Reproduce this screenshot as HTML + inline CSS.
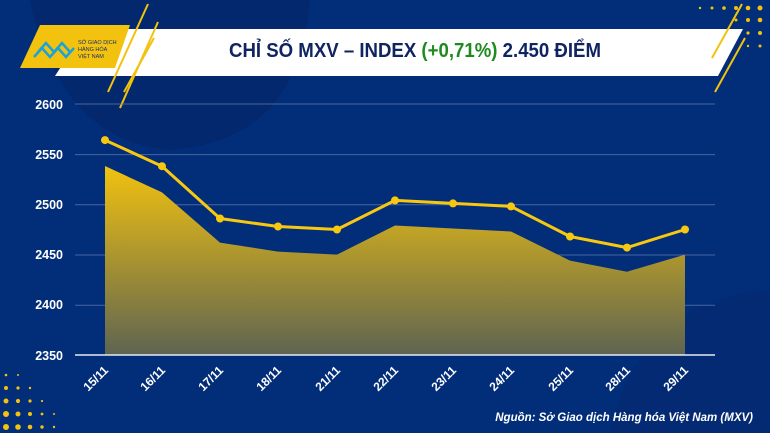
<!DOCTYPE html>
<html><head><meta charset="utf-8"><style>
html,body{margin:0;padding:0;width:770px;height:433px;overflow:hidden;}
body{background:#022d78;font-family:"Liberation Sans",sans-serif;}
svg{display:block;}
</style></head><body>
<svg width="770" height="433" viewBox="0 0 770 433" xmlns="http://www.w3.org/2000/svg">
<defs>
<linearGradient id="ag" x1="0" y1="0" x2="0" y2="1">
<stop offset="0" stop-color="#f2c20f"/>
<stop offset="1" stop-color="#5e6452"/>
</linearGradient>
</defs>
<rect width="770" height="433" fill="#022d78"/>
<path d="M30,0 L310,0 Q300,140 170,150 Q60,140 30,0 Z" fill="#04276a" opacity="0.8"/>
<path d="M610,433 Q640,300 770,290 L770,433 Z" fill="#042a70" opacity="0.7"/>
<g fill="#f2c20f">
<circle cx="700" cy="8" r="1.2"/><circle cx="712" cy="8" r="1.5"/><circle cx="724" cy="8" r="1.8"/><circle cx="736" cy="8" r="2"/><circle cx="748" cy="8" r="2.3"/><circle cx="760" cy="8" r="2.5"/>
<circle cx="736" cy="20" r="1.5"/><circle cx="748" cy="20" r="2"/><circle cx="760" cy="20" r="2.3"/>
<circle cx="748" cy="33" r="1.6"/><circle cx="760" cy="33" r="2"/><circle cx="760" cy="46" r="1.5"/><circle cx="748" cy="46" r="1.2"/>
<circle cx="6" cy="375" r="1.3"/><circle cx="18" cy="375" r="1"/><circle cx="6" cy="388" r="2"/><circle cx="18" cy="388" r="1.6"/><circle cx="30" cy="388" r="1.2"/>
<circle cx="6" cy="401" r="2.5"/><circle cx="18" cy="401" r="2.1"/><circle cx="30" cy="401" r="1.6"/><circle cx="42" cy="401" r="1.1"/>
<circle cx="6" cy="414" r="3"/><circle cx="18" cy="414" r="2.5"/><circle cx="30" cy="414" r="2"/><circle cx="42" cy="414" r="1.4"/><circle cx="54" cy="414" r="1"/>
<circle cx="6" cy="427" r="3"/><circle cx="18" cy="427" r="2.8"/><circle cx="30" cy="427" r="2.3"/><circle cx="42" cy="427" r="1.7"/><circle cx="54" cy="427" r="1.2"/>
</g>
<polygon points="85,29 743,29 718,76 55,76" fill="#ffffff"/>
<polygon points="40,25 130,25 115,68 20,68" fill="#f2c20f"/>
<g stroke="#1aa3d8" stroke-width="2.5" fill="none">
<polyline points="34,57 42,48 50,57 58,48 66,57 74,48"/>
<polyline points="38,52 46,43 54,52 62,43 70,52"/>
</g>
<text x="78" y="44" font-size="5.5" fill="#1b2e6e">SỞ GIAO DỊCH</text>
<text x="78" y="51" font-size="5.5" fill="#1b2e6e">HÀNG HÓA</text>
<text x="78" y="58" font-size="5.5" fill="#1b2e6e">VIỆT NAM</text>
<g stroke="#f2c20f" stroke-width="2">
<line x1="148" y1="4" x2="108" y2="92"/><line x1="158" y1="22" x2="120" y2="108"/><line x1="154" y1="38" x2="124" y2="92"/>
<line x1="742" y1="4" x2="712" y2="58"/><line x1="745" y1="38" x2="715" y2="92"/>
</g>
<text x="415" y="57" font-size="20" font-weight="bold" fill="#0f2461" text-anchor="middle" textLength="372" lengthAdjust="spacingAndGlyphs">CHỈ SỐ MXV – INDEX <tspan fill="#1f8a1f">(+0,71%)</tspan> 2.450 ĐIỂM</text>
<g stroke="#5a74ad" stroke-width="1" opacity="0.8">
<line x1="75" y1="104" x2="715" y2="104"/><line x1="75" y1="154.6" x2="715" y2="154.6"/>
<line x1="75" y1="204.8" x2="715" y2="204.8"/><line x1="75" y1="255" x2="715" y2="255"/>
<line x1="75" y1="305.2" x2="715" y2="305.2"/>
</g>
<g font-size="12.5" font-weight="bold" fill="#fff" text-anchor="end">
<text x="63" y="109">2600</text><text x="63" y="159">2550</text><text x="63" y="209">2500</text>
<text x="63" y="259">2450</text><text x="63" y="309">2400</text><text x="63" y="360">2350</text>
</g>
<polygon fill="url(#ag)" points="105,355 105,166 162,192.4 220,242.6 278,251.6 337,254.6 395,225.5 453,228.5 511,231.5 570,260.6 627,271.7 685,254.6 685,355"/>
<line x1="75" y1="355" x2="715" y2="355" stroke="#e8eaf2" stroke-width="1.5"/>
<polyline fill="none" stroke="#f8c811" stroke-width="3" stroke-linejoin="round" points="105,140.1 162,166.2 220,218.5 278,226.5 337,229.5 395,200.4 453,203.4 511,206.4 570,236.5 627,247.6 685,229.5"/>
<g fill="#f8c811">
<circle cx="105" cy="140.1" r="4"/><circle cx="162" cy="166.2" r="4"/><circle cx="220" cy="218.5" r="4"/><circle cx="278" cy="226.5" r="4"/><circle cx="337" cy="229.5" r="4"/><circle cx="395" cy="200.4" r="4"/><circle cx="453" cy="203.4" r="4"/><circle cx="511" cy="206.4" r="4"/><circle cx="570" cy="236.5" r="4"/><circle cx="627" cy="247.6" r="4"/><circle cx="685" cy="229.5" r="4"/>
</g>
<g font-size="12" font-weight="bold" fill="#fff" text-anchor="end">
<text transform="translate(109,371) rotate(-45)">15/11</text>
<text transform="translate(166,371) rotate(-45)">16/11</text>
<text transform="translate(224,371) rotate(-45)">17/11</text>
<text transform="translate(282,371) rotate(-45)">18/11</text>
<text transform="translate(341,371) rotate(-45)">21/11</text>
<text transform="translate(399,371) rotate(-45)">22/11</text>
<text transform="translate(457,371) rotate(-45)">23/11</text>
<text transform="translate(515,371) rotate(-45)">24/11</text>
<text transform="translate(574,371) rotate(-45)">25/11</text>
<text transform="translate(631,371) rotate(-45)">28/11</text>
<text transform="translate(689,371) rotate(-45)">29/11</text>
</g>
<text x="753" y="421" font-size="11.5" font-weight="bold" font-style="italic" fill="#fff" text-anchor="end">Nguồn: Sở Giao dịch Hàng hóa Việt Nam (MXV)</text>
</svg>
</body></html>
